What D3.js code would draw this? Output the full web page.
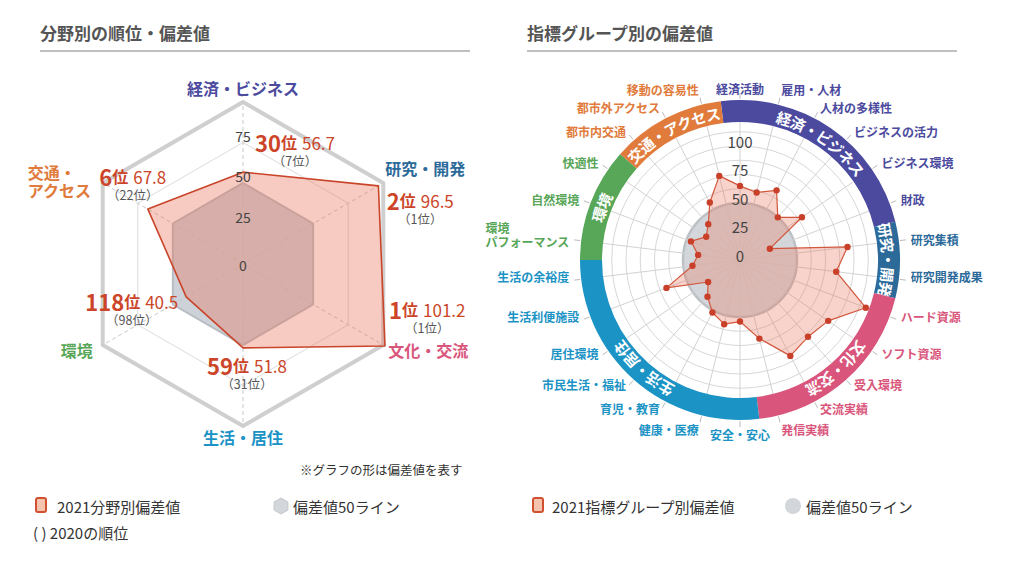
<!DOCTYPE html>
<html><head><meta charset="utf-8">
<script src="https://cdn.jsdelivr.net/npm/d3@7"></script>
<style>
body{margin:0;background:#fff;}
svg{font-family:"Noto Sans CJK JP","Noto Sans",sans-serif;}
</style></head><body>
<svg id="c" width="1024" height="569"></svg>
<script>
// ---------- DATA ----------
const fieldNames = ["経済・ビジネス","研究・開発","文化・交流","生活・居住","環境","交通・アクセス"];
const fieldScores = [56.7, 96.5, 101.2, 51.8, 40.5, 67.8];
const fieldRank2021 = [30, 2, 1, 59, 118, 6];
const fieldRank2020 = [7, 1, 1, 31, 98, 22];
const fieldColors = ["#4b4a9e","#2c6a9a","#d9557b","#1b93c5","#58a658","#e07b3c"];
const fieldTicks = [0, 25, 50, 75];

const groupNames = ["経済活動","雇用・人材","人材の多様性","ビジネスの活力","ビジネス環境","財政",
  "研究集積","研究開発成果",
  "ハード資源","ソフト資源","受入環境","交流実績","発信実績",
  "安全・安心","健康・医療","育児・教育","市民生活・福祉","居住環境","生活利便施設","生活の余裕度",
  "環境パフォーマンス","自然環境","快適性",
  "都市内交通","都市外アクセス","移動の容易性"];
const groupField = [0,0,0,0,0,0, 1,1, 2,2,2,2,2, 3,3,3,3,3,3,3, 4,4,4, 5,5,5];
const groupScores = [65,61,69,50,66,28, 95,85, 118,94,90,95,71, 54,58,52,43,34,69,42, 37,46,36, 42,57,76];
const polarTicks = [0, 25, 50, 75, 100];

// ---------- SETUP ----------
const svg = d3.select("#c");
const red = "#cc4528";

function title(x, y, w, t){
  svg.append("text").attr("x",x).attr("y",y).attr("font-size",17).attr("font-weight",700)
    .attr("fill","#555").attr("dominant-baseline","central").text(t);
  svg.append("line").attr("x1",x).attr("x2",x+w).attr("y1",51).attr("y2",51)
    .attr("stroke","#aaa").attr("stroke-width",1.6);
}
title(40, 32, 430, "分野別の順位・偏差値");
title(527, 32, 430, "指標グループ別の偏差値");

// ---------- LEFT HEX RADAR ----------
const L = {cx:243, cy:264};
const rL = d3.scaleLinear().domain([0,100]).range([0,162]);
const nF = fieldNames.length;
const aF = i => i*2*Math.PI/nF;
const gL = svg.append("g").attr("transform",`translate(${L.cx},${L.cy})`);
const hex = d3.lineRadial().angle((d,i)=>aF(i)).radius(d=>rL(d)).curve(d3.curveLinearClosed);
const ptL = (i,v)=>[rL(v)*Math.sin(aF(i)), -rL(v)*Math.cos(aF(i))];

gL.append("path").attr("d",hex(fieldNames.map(()=>100))).attr("fill","none")
  .attr("stroke","#cfcfcf").attr("stroke-width",4).attr("stroke-linejoin","round");
gL.append("path").attr("d",hex(fieldNames.map(()=>75))).attr("fill","none")
  .attr("stroke","#dcdcdc").attr("stroke-width",1);
gL.append("path").attr("d",hex(fieldNames.map(()=>50))).attr("fill","#cdd2d8")
  .attr("stroke","#b8bdc3").attr("stroke-width",2);
fieldNames.forEach((n,i)=>{
  const p = ptL(i,100);
  gL.append("line").attr("x1",0).attr("y1",0).attr("x2",p[0]).attr("y2",p[1])
    .attr("stroke","#c8c8c8").attr("stroke-width",1).attr("stroke-dasharray","4,3");
});
gL.append("path").attr("d",hex(fieldScores)).attr("fill","rgba(232,112,86,0.36)")
  .attr("stroke","#c9452a").attr("stroke-width",1.6).attr("stroke-linejoin","round");

fieldTicks.forEach(v=>{
  gL.append("text").attr("x",0).attr("y", v===0 ? 1 : -rL(v)-7)
    .attr("text-anchor","middle").attr("dominant-baseline","central")
    .attr("font-size",14).attr("fill","#444").text(v);
});

// field labels (layout offsets from outer vertex)
const fLab = [
  {a:"middle", dx:0, dy:-14},
  {a:"start", dx:2, dy:-15},
  {a:"start", dx:5, dy:5},
  {a:"middle", dx:0, dy:11},
  {a:"middle", dx:-26, dy:5},
  {a:"start", dx:-75, dy:-2}
];
fieldNames.forEach((n,i)=>{
  const p = ptL(i,100), o = fLab[i];
  const t = gL.append("text").attr("text-anchor",o.a).attr("font-size",16).attr("font-weight",700)
    .attr("fill",fieldColors[i]).attr("dominant-baseline","central");
  if(n==="交通・アクセス"){
    t.append("tspan").attr("x",p[0]+o.dx).attr("y",p[1]+o.dy-9).text("交通・");
    t.append("tspan").attr("x",p[0]+o.dx).attr("y",p[1]+o.dy+9).text("アクセス");
  } else {
    t.attr("x",p[0]+o.dx).attr("y",p[1]+o.dy).text(n);
  }
});

// rank annotations
const fAnn = [
  {dx:52, dy:40}, {dx:37, dy:17}, {dx:44, dy:-36},
  {dx:4, dy:-61}, {dx:29, dy:-44}, {dx:30, dy:-7}
];
fieldNames.forEach((n,i)=>{
  const p = ptL(i,100), o = fAnn[i];
  const t = gL.append("text").attr("x",p[0]+o.dx).attr("y",p[1]+o.dy)
    .attr("text-anchor","middle").attr("dominant-baseline","central").attr("fill",red);
  t.append("tspan").attr("font-size",22).attr("font-weight",700).text(fieldRank2021[i]);
  t.append("tspan").attr("font-size",16).attr("font-weight",700).text("位");
  t.append("tspan").attr("font-size",17).attr("dx",5).text(fieldScores[i].toFixed(1));
  gL.append("text").attr("x",p[0]+o.dx).attr("y",p[1]+o.dy+18)
    .attr("text-anchor","middle").attr("dominant-baseline","central")
    .attr("font-size",12.5).attr("fill","#555").text(`（${fieldRank2020[i]}位）`);
});

svg.append("text").attr("x",300).attr("y",469).attr("font-size",12.5).attr("fill","#333")
  .attr("dominant-baseline","central").text("※グラフの形は偏差値を表す");

// ---------- RIGHT POLAR RADAR ----------
const R = {cx:740, cy:260};
const rR = d3.scaleLinear().domain([0,100]).range([0,114]);
const nG = groupNames.length, step = 2*Math.PI/nG;
const aG = i => i*step;
const gR = svg.append("g").attr("transform",`translate(${R.cx},${R.cy})`);
const ptR = (a,r)=>[r*Math.sin(a), -r*Math.cos(a)];
const bandIn = 138, bandOut = 160;

gR.append("circle").attr("r",rR(50)).attr("fill","#d3d7dc");
d3.range(12.5, 125, 12.5).forEach(v=>{
  gR.append("circle").attr("r",rR(v)).attr("fill","none")
    .attr("stroke", v===50 ? "#bcc1c6" : "#d8d8d8").attr("stroke-width", v===50?2.5:1);
});
groupNames.forEach((n,i)=>{
  const p = ptR(aG(i), bandIn);
  gR.append("line").attr("x1",0).attr("y1",0).attr("x2",p[0]).attr("y2",p[1])
    .attr("stroke","#d2d2d2").attr("stroke-width",1);
});

// band
const arc = d3.arc().innerRadius(bandIn).outerRadius(bandOut);
fieldNames.forEach((n,f)=>{
  const idx = groupField.map((g,i)=>g===f?i:-1).filter(i=>i>=0);
  const s = aG(idx[0]) - step/2, e = aG(idx[idx.length-1]) + step/2;
  gR.append("path").attr("d",arc({startAngle:s,endAngle:e})).attr("fill",fieldColors[f]);
  const rt = 149;
  const p0 = ptR(s, rt), p1 = ptR(e, rt);
  const large = (e - s) > Math.PI ? 1 : 0;
  gR.append("path").attr("id","bp"+f).attr("fill","none")
    .attr("d",`M${p0[0]},${p0[1]} A${rt},${rt} 0 ${large} 1 ${p1[0]},${p1[1]}`);
  gR.append("text").attr("font-size",15).attr("font-weight",700).attr("fill","#fff")
    .attr("dominant-baseline","central")
    .append("textPath").attr("href","#bp"+f).attr("startOffset","50%").attr("text-anchor","middle")
    .text(n);
});

// leader ticks and labels
groupNames.forEach((n,i)=>{
  const a = aG(i);
  const p0 = ptR(a,161), p1 = ptR(a,167);
  gR.append("line").attr("x1",p0[0]).attr("y1",p0[1]).attr("x2",p1[0]).attr("y2",p1[1])
    .attr("stroke","#bbb").attr("stroke-width",1);
  const deg = a*180/Math.PI, c = Math.cos(a);
  let anchor = "middle";
  if(deg > 5 && deg < 175) anchor = "start";
  else if(deg > 185 && deg < 355) anchor = "end";
  const p = ptR(a,172);
  let yAdj = 0;
  if(c > 0.95 && deg > 5 && deg < 355) yAdj = -4;
  else if(c < -0.95) yAdj = 2;
  else if(c < 0) yAdj = -4;
  const col = fieldColors[groupField[i]];
  if(n==="環境パフォーマンス"){
    const t = gR.append("text").attr("font-size",12).attr("font-weight",700).attr("fill",col)
      .attr("dominant-baseline","central");
    const l2 = t.append("tspan").attr("y",p[1]+2).text("パフォーマンス");
    const w = l2.node().getComputedTextLength();
    l2.attr("x",p[0]-w);
    t.insert("tspan","tspan").attr("x",p[0]-w).attr("y",p[1]-12).text("環境");
  } else {
    gR.append("text").attr("x",p[0]).attr("y",p[1]+yAdj).attr("text-anchor",anchor)
      .attr("dominant-baseline","central").attr("font-size",12).attr("font-weight",700)
      .attr("fill",col).text(n);
  }
});

// data polygon
const radial = d3.lineRadial().angle((d,i)=>aG(i)).radius(d=>rR(d)).curve(d3.curveLinearClosed);
gR.append("path").attr("d",radial(groupScores)).attr("fill","rgba(232,118,92,0.32)")
  .attr("stroke","#d2573c").attr("stroke-width",1.2).attr("stroke-linejoin","round");
groupScores.forEach((v,i)=>{
  const p = ptR(aG(i), rR(v));
  gR.append("circle").attr("cx",p[0]).attr("cy",p[1]).attr("r",3.2).attr("fill","#c9402a");
});
polarTicks.forEach(v=>{
  gR.append("text").attr("x",0).attr("y",-rR(v)-5).attr("text-anchor","middle")
    .attr("dominant-baseline","central").attr("font-size",15).attr("fill","#444").text(v);
});

// ---------- LEGENDS ----------
function sq(x,y){
  svg.append("rect").attr("x",x).attr("y",y).attr("width",10).attr("height",14).attr("rx",2)
    .attr("fill","#f5c4ae").attr("stroke","#d0502f").attr("stroke-width",2);
}
function lt(x,y,t){
  svg.append("text").attr("x",x).attr("y",y).attr("font-size",15).attr("fill","#333")
    .attr("dominant-baseline","central").text(t);
}
sq(36,498); lt(57,506,"2021分野別偏差値");
const hexIcon = d3.lineRadial().angle((d,i)=>i*Math.PI/3).radius(8).curve(d3.curveLinearClosed);
svg.append("path").attr("transform","translate(281,506)").attr("d",hexIcon(d3.range(6)))
  .attr("fill","#d3d7dc").attr("stroke","#c4c8cd").attr("stroke-width",1);
lt(293,506,"偏差値50ライン");
lt(33,532,"( ) 2020の順位");
sq(533,498); lt(552,506,"2021指標グループ別偏差値");
svg.append("circle").attr("cx",793).attr("cy",506).attr("r",8).attr("fill","#d3d7dc");
lt(806,506,"偏差値50ライン");
</script></body></html>
